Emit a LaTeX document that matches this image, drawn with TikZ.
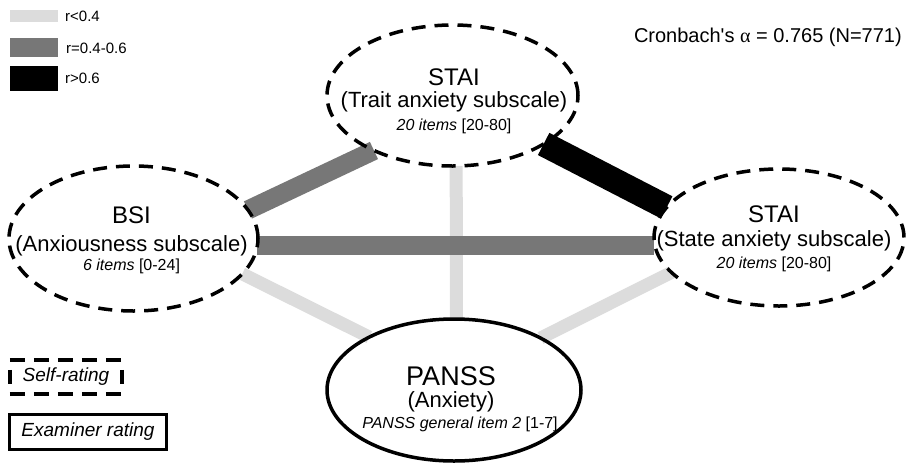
\documentclass[tikz,border=0pt]{standalone}
\usepackage{fontspec}
\setmainfont{Liberation Sans}[Ligatures=TeXOff]
\newfontfamily\greekserif{Liberation Serif}
\usetikzlibrary{shapes.geometric,backgrounds}
\definecolor{lowc}{RGB}{220,220,220}
\definecolor{midc}{RGB}{119,119,119}
\begin{document}
\begin{tikzpicture}[x=1pt,y=-1pt,
  scaleell/.style={ellipse, draw, line width=3.5pt, inner sep=0pt, outer sep=0pt},
  selfell/.style={scaleell, dash pattern=on 14pt off 9pt},
  examell/.style={scaleell},
  ttl/.style={anchor=base, inner sep=0pt, font=\fontsize{24}{24}\selectfont},
  subt/.style={anchor=base, inner sep=0pt, font=\fontsize{22}{22}\selectfont},
  itm/.style={anchor=base, inner sep=0pt, font=\fontsize{16}{16}\selectfont},
  rlow/.style={line width=13pt, draw=lowc},
  rmid/.style={line width=19pt, draw=midc},
  rhigh/.style={line width=25pt, draw=black},
  legtxt/.style={anchor=base west, inner sep=0pt, font=\fontsize{15}{15}\selectfont},
  boxtxt/.style={font=\fontsize{19}{19}\selectfont\itshape, inner sep=0pt},
  hdash/.style={line width=3.5pt, dash pattern=on 15pt off 9pt},
  vdash/.style={line width=3.5pt, dash pattern=on 14pt off 20pt, dash phase=24pt},
]
\useasboundingbox (0,0) rectangle (906,464);

% ellipses
\node[selfell, minimum width=251pt, minimum height=141pt] (trait) at (452.5,95.5) {};
\node[selfell, minimum width=249pt, minimum height=145pt] (bsi) at (133.5,238.5) {};
\node[selfell, minimum width=250pt, minimum height=137pt] (state) at (779,237.5) {};
\node[examell, minimum width=254pt, minimum height=142pt] (panss) at (454,390) {};

% connectors
\begin{scope}[on background layer]
  \draw[rlow] (trait.273) -- (panss.88);
  \draw[rlow] (bsi.342) -- (panss.148);
  \draw[rlow] (state.198) -- (panss.31);
  \draw[rmid] (bsi.-3.8) -- (state.west |- bsi.-3.8);
  \draw[rmid] (bsi.14.1) -- (trait.215.1);
  \draw[rhigh] (trait.332.3) -- (state.165.7);
\end{scope}

% ellipse texts
\node[ttl] (trait1) at (454,85) {STAI};
\node[subt] (trait2) at (454,107) {(Trait anxiety subscale)};
\node[itm] (trait3) at (454,130.5) {\textit{20 items} [20-80]};

\node[ttl] (bsi1) at (131.5,223) {BSI};
\node[subt] (bsi2) at (131.5,251) {(Anxiousness subscale)};
\node[itm] (bsi3) at (131.5,270) {\textit{6 items} [0-24]};

\node[ttl] (state1) at (774,222) {STAI};
\node[subt] (state2) at (774,246) {(State anxiety subscale)};
\node[itm] (state3) at (774,268) {\textit{20 items} [20-80]};

\node[ttl, font=\fontsize{27}{27}\selectfont] (panss1) at (451,385) {PANSS};
\node[subt] (panss2) at (451,407) {(Anxiety)};
\node[itm] (panss3) at (460,428) {\textit{PANSS general item 2} [1-7]};

% legend of correlations
\fill[lowc] (10,10) rectangle (58,22);
\fill[midc] (10,38) rectangle (58,57);
\fill[black] (10,66) rectangle (58,91);
\node[legtxt] (leglow) at (65,21) {r<0.4};
\node[legtxt] (legmid) at (66,53) {r=0.4-0.6};
\node[legtxt] (leghigh) at (65,83) {r>0.6};

% Cronbach
\node[anchor=base east, inner sep=0pt, font=\fontsize{20}{20}\selectfont] (alpha) at (902,42)
  {Cronbach's {\greekserif α} = 0.765 (N=771)};

% rating legend
\node[boxtxt, minimum width=112pt, minimum height=34pt] (selfbox) at (66,377) {Self-rating};
\draw[hdash] (selfbox.north west) -- (selfbox.north east);
\draw[hdash] (selfbox.south west) -- (selfbox.south east);
\draw[vdash] (selfbox.north west) -- (selfbox.south west);
\draw[vdash] (selfbox.north east) -- (selfbox.south east);
\node[boxtxt, draw, line width=3pt, minimum width=157pt, minimum height=35pt] (exambox) at (88,432) {Examiner rating};
\end{tikzpicture}
\end{document}
